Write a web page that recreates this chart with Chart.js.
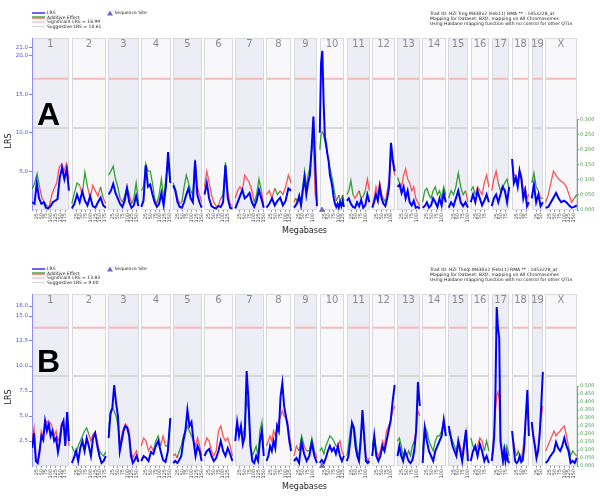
<!DOCTYPE html>
<html>
<head>
<meta charset="utf-8">
<script src="https://cdn.jsdelivr.net/npm/chart.js@4.4.1/dist/chart.umd.min.js"></script>
<style>
  html, body { margin: 0; padding: 0; background: #fff; }
  #wrap { position: relative; width: 600px; height: 497px; }
  canvas { position: absolute; left: 0; }
</style>
</head>
<body>
<div id="wrap">
  <canvas id="chartA" width="600" height="256" style="top:0"></canvas>
  <canvas id="chartB" width="600" height="241" style="top:256px"></canvas>
</div>
<script>
// chromosomes and their lengths (Mb)
const chromosomes = ['1','2','3','4','5','6','7','8','9','10','11','12','13','14','15','16','17','18','19','X'];
const chromLengthsMb = [197, 182, 160, 156, 153, 150, 153, 132, 124, 130, 122, 121, 120, 125, 104, 98, 95, 91, 61, 167];
const mbTicks = [25, 50, 75, 100, 125, 150, 175];
const gapMb = 13;

// panel A - LRS per chromosome
const lrsA = [
  [1.0, 0.8, 3.5, 1.5, 0.8, 1.0, 0.3, 0.2, 0.5, 1.0, 1.2, 1.4, 4.2, 5.5, 4.0, 5.3, 2.5],
  [0.2, 0.8, 2.0, 1.0, 2.4, 1.2, 0.6, 1.8, 0.5, 0.3, 1.0, 1.6, 0.6, 0.3],
  [2.0, 2.5, 3.4, 2.2, 1.5, 0.8, 0.4, 1.2, 2.8, 1.0, 0.3, 0.6, 1.8, 0.5],
  [0.4, 1.2, 5.8, 3.0, 3.3, 2.0, 1.0, 0.4, 0.8, 2.2, 0.6, 3.0, 7.5, 3.5],
  [3.2, 2.5, 1.0, 0.4, 0.3, 1.0, 2.0, 2.8, 1.5, 1.0, 6.4, 2.0, 1.0, 0.3],
  [2.0, 3.5, 1.5, 0.5, 0.3, 0.2, 0.5, 0.4, 1.0, 5.8, 1.5, 0.3, 0.2],
  [0.2, 1.0, 1.8, 2.6, 1.5, 1.8, 2.2, 1.0, 0.4, 1.2, 2.6, 1.5, 0.3],
  [0.3, 0.8, 1.5, 0.6, 1.2, 1.6, 0.6, 1.2, 2.8, 2.5],
  [0.3, 0.6, 1.0, 1.8, 0.6, 2.5, 4.2, 2.0, 3.5, 4.5, 8.0, 12.1, 6.0, 0.5],
  [10.0, 19.0, 20.6, 14.0, 9.5, 8.5, 7.2, 6.3, 4.5, 3.8, 2.8, 1.5, 0.8, 0.4, 0.8, 0.3, 1.0, 0.5, 1.2, 0.4],
  [1.2, 1.5, 0.8, 0.4, 0.3, 1.0, 0.5, 1.3, 0.3, 0.6, 2.0, 1.0],
  [0.3, 1.0, 2.0, 1.2, 3.0, 1.5, 0.8, 0.5, 1.5, 3.0, 8.7, 6.5, 5.0],
  [3.0, 3.3, 2.2, 3.0, 1.5, 2.5, 1.0, 0.6, 1.2, 0.3, 0.4, 0.2],
  [0.3, 0.5, 1.0, 0.3, 0.6, 1.5, 1.0, 0.4, 1.5, 0.6, 2.2, 1.0],
  [0.3, 1.0, 0.5, 1.5, 2.5, 1.0, 0.5, 1.0, 0.3],
  [1.0, 2.0, 1.0, 2.5, 1.5, 0.6, 1.2, 2.0, 1.0],
  [0.5, 1.5, 2.0, 1.0, 2.0, 3.0, 2.5, 1.0, 3.0],
  [6.6, 3.5, 4.2, 3.0, 5.1, 4.0, 1.5, 2.5, 0.5, 1.0],
  [1.5, 3.3, 1.0, 2.0, 0.5, 1.0],
  [0.3, 0.4, 1.0, 1.6, 2.2, 1.5, 1.0, 1.2, 1.0, 0.6, 0.3, 0.4, 0.6]
];
// panel A - additive effect (sign: + green, - red)
const addA = [
  [-0.069, 0.090, 0.121, 0.077, -0.039, -0.026, 0.013, -0.013, -0.051, -0.072, -0.090, -0.141, -0.154, -0.129, -0.154, -0.103],
  [-0.021, 0.057, 0.090, 0.082, -0.051, 0.126, 0.077, -0.039, -0.082, -0.064, -0.046, -0.077, 0.039, -0.021],
  [0.116, 0.129, 0.146, 0.103, 0.077, 0.039, -0.026, 0.046, 0.077, 0.051, -0.021, 0.039, 0.090, 0.026],
  [0.064, 0.077, 0.154, 0.129, 0.129, 0.090, 0.039, -0.021, 0.051, 0.103, 0.039, 0.103, 0.154, 0.090],
  [0.090, 0.072, 0.039, -0.021, -0.026, 0.077, 0.116, 0.090, 0.064, 0.051, 0.167, 0.077, -0.051, -0.026],
  [-0.077, -0.129, -0.090, -0.051, -0.026, -0.013, -0.015, -0.039, 0.051, 0.159, 0.064, -0.021, -0.013],
  [-0.039, -0.064, -0.077, -0.064, -0.116, -0.103, -0.090, -0.064, -0.026, 0.051, 0.103, 0.064, -0.013],
  [-0.051, -0.064, -0.039, -0.072, 0.051, 0.064, -0.051, -0.077, -0.116, -0.090],
  [-0.026, -0.039, 0.026, 0.051, 0.026, 0.077, 0.129, 0.077, 0.116, 0.141, 0.193, 0.231, -0.051, -0.026],
  [0.200, 0.250, 0.260, 0.250, 0.230, 0.210, 0.190, 0.160, 0.140, 0.120, 0.100, 0.075, 0.050, -0.030, 0.040, 0.050, -0.030, 0.040, -0.050, 0.030],
  [-0.051, 0.064, 0.098, 0.051, -0.039, -0.051, -0.064, 0.039, -0.046, 0.064, -0.103, -0.064],
  [-0.013, -0.039, -0.077, -0.051, -0.090, -0.051, -0.039, 0.026, -0.064, -0.103, -0.180, -0.154, -0.116],
  [0.108, 0.090, -0.077, -0.116, -0.136, -0.103, -0.090, -0.064, -0.077, -0.039, -0.026, -0.013],
  [0.026, 0.064, 0.072, 0.051, 0.039, 0.064, 0.077, 0.051, 0.064, 0.039, 0.077, 0.051],
  [0.039, 0.064, 0.051, 0.077, 0.123, 0.077, 0.051, 0.064, -0.026],
  [0.064, 0.077, 0.051, -0.077, -0.064, -0.051, -0.090, -0.116, -0.077],
  [-0.064, -0.103, -0.129, -0.090, 0.064, 0.077, 0.090, 0.103, 0.064],
  [-0.159, -0.116, -0.116, -0.090, -0.129, -0.116, -0.064, -0.077, -0.039, -0.051],
  [0.090, 0.123, 0.077, 0.064, -0.039, 0.039],
  [-0.026, -0.051, -0.090, -0.129, -0.116, -0.103, -0.095, -0.090, -0.077, -0.051, -0.026, -0.039, 0.051]
];

// panel B - LRS per chromosome
const lrsB = [
  [1.8, 3.3, 0.5, 0.3, 1.5, 3.0, 2.6, 4.5, 3.5, 4.2, 3.0, 3.5, 2.5, 2.8, 1.4, 2.4, 4.0, 4.5, 2.0, 5.4, 2.5],
  [0.3, 0.8, 1.5, 0.5, 1.8, 2.5, 1.5, 2.8, 2.0, 1.0, 2.8, 3.3, 2.0, 1.0, 0.3, 0.5, 1.0],
  [2.8, 5.2, 5.8, 8.1, 6.3, 5.0, 1.5, 2.5, 3.5, 4.0, 3.8, 3.0, 1.0, 0.3, 0.6, 1.0, 0.4],
  [0.5, 1.0, 0.8, 0.5, 1.4, 1.2, 2.0, 2.5, 1.5, 0.6, 0.4, 1.5, 4.8],
  [0.3, 0.5, 0.3, 0.6, 1.0, 2.5, 3.5, 5.6, 4.0, 4.4, 2.5, 1.0, 2.0, 1.5, 0.5],
  [1.0, 1.5, 1.7, 1.0, 0.5, 0.8, 1.5, 2.5, 1.5, 1.0, 1.8, 1.2, 0.5],
  [2.5, 4.4, 3.0, 4.0, 2.2, 3.0, 9.5, 6.5, 2.0, 0.5, 0.3, 1.0, 0.5, 2.5, 3.5, 1.0],
  [0.5, 1.0, 2.0, 1.5, 2.5, 1.8, 4.0, 3.5, 7.0, 8.3, 6.0, 5.0, 4.0, 2.5, 1.5],
  [0.5, 0.8, 0.3, 2.4, 1.2, 0.5, 1.0, 2.3, 1.0, 0.3],
  [0.3, 0.6, 0.3, 0.8, 1.5, 2.0, 1.5, 1.8, 1.2, 2.0, 1.0, 0.5, 1.0],
  [0.5, 1.0, 2.5, 4.3, 3.8, 2.0, 1.0, 0.5, 2.5, 5.6, 3.0, 0.5, 0.3, 0.5],
  [1.0, 3.0, 1.0, 0.5, 1.0, 2.0, 1.5, 2.5, 3.5, 4.5, 6.5, 8.1],
  [1.0, 2.0, 1.0, 0.5, 1.5, 1.0, 0.5, 0.3, 0.6, 1.5, 3.5, 8.4, 6.0],
  [0.3, 3.8, 2.5, 1.5, 1.0, 0.5, 1.5, 2.0, 2.5, 3.0, 4.6, 3.0],
  [4.0, 3.0, 2.0, 1.5, 1.0, 2.5, 1.5, 0.5, 2.0, 3.6, 0.5],
  [0.5, 1.5, 2.0, 1.0, 2.2, 1.5, 0.5, 1.0, 0.3],
  [0.5, 1.5, 3.0, 7.5, 15.9, 13.8, 12.8, 2.5, 1.5, 0.5, 1.5, 0.5, 1.2, 0.5, 0.3],
  [3.5, 2.0, 0.5, 0.3, 0.5, 1.0, 0.4, 0.6, 2.0, 5.0, 7.6, 3.0],
  [4.4, 3.0, 2.0, 0.8, 1.5, 3.1, 6.1, 9.4],
  [0.3, 0.5, 0.9, 1.2, 1.5, 2.4, 1.8, 1.5, 2.0, 2.8, 2.0, 1.5, 0.3, 0.5, 0.3, 0.8]
];
// panel B - additive effect
const addB = [
  [-0.156, -0.238, -0.063, -0.031, -0.063, -0.219, -0.188, -0.263, -0.281, -0.250, -0.269, -0.238, -0.188, -0.219, -0.156, -0.188, -0.269, -0.281, -0.188, -0.250, -0.125],
  [0.125, 0.094, 0.075, 0.125, 0.156, 0.188, 0.219, 0.238, 0.200, -0.156, -0.200, -0.213, -0.156, -0.094, 0.075, 0.063, 0.088],
  [0.219, 0.344, 0.363, 0.344, 0.313, 0.250, -0.125, -0.188, -0.238, -0.263, -0.250, -0.219, -0.094, -0.050, -0.075, -0.094, -0.031],
  [-0.125, -0.175, -0.156, -0.094, -0.125, -0.094, 0.156, 0.188, 0.125, -0.188, -0.125, 0.125, 0.281],
  [-0.063, -0.075, -0.050, 0.094, 0.125, 0.188, 0.219, 0.250, 0.219, 0.188, -0.156, -0.125, -0.175, -0.125, -0.063],
  [-0.125, -0.175, -0.156, -0.094, -0.063, -0.094, -0.219, -0.250, -0.188, -0.156, -0.175, -0.125, -0.063],
  [0.219, 0.250, 0.219, 0.238, 0.188, 0.250, 0.425, 0.344, 0.125, 0.063, 0.094, 0.125, 0.063, 0.219, 0.275, 0.094],
  [0.125, -0.156, -0.188, -0.156, -0.219, -0.188, -0.250, -0.281, -0.313, -0.344, -0.313, -0.300, -0.281, -0.188, -0.125],
  [0.063, -0.125, -0.094, 0.188, 0.125, -0.094, 0.094, 0.175, 0.094, -0.050],
  [0.094, 0.113, 0.075, 0.125, 0.156, 0.188, 0.175, 0.156, 0.125, -0.125, -0.156, -0.094, -0.063],
  [0.063, 0.125, 0.219, 0.269, 0.250, 0.188, 0.094, 0.063, 0.188, 0.281, 0.156, -0.063, -0.031, -0.050],
  [0.125, 0.188, 0.094, -0.063, -0.094, -0.156, -0.125, -0.219, -0.250, -0.281, -0.344, -0.375],
  [0.156, 0.175, 0.125, 0.063, 0.094, 0.063, 0.094, 0.063, 0.125, 0.156, -0.219, -0.344, -0.313],
  [0.094, 0.250, 0.219, 0.156, 0.125, 0.094, 0.156, 0.188, 0.188, 0.219, 0.281, 0.219],
  [0.219, 0.188, 0.156, 0.125, 0.094, 0.156, -0.125, -0.063, -0.156, -0.219, -0.063],
  [0.175, 0.125, 0.094, -0.125, -0.175, -0.156, -0.094, 0.156, 0.094],
  [-0.063, -0.125, -0.219, -0.344, -0.438, -0.463, -0.406, -0.188, -0.094, -0.063, 0.125, 0.094, 0.125, 0.094, 0.063],
  [-0.188, -0.156, -0.094, -0.063, 0.094, 0.063, -0.050, -0.094, -0.188, -0.313, -0.375, -0.219],
  [-0.250, -0.188, -0.125, -0.063, -0.094, -0.219, -0.313, -0.375],
  [-0.094, -0.125, -0.156, -0.188, -0.219, -0.188, -0.206, -0.219, -0.238, -0.250, -0.188, -0.125, 0.063, 0.094, 0.075, -0.063]
];

const lrsTicksA = [5, 10, 15, 20, 21];
const lrsTicksB = [2.5, 5, 7.5, 10, 12.5, 15, 16];
const addTicksA = [0, 0.05, 0.1, 0.15, 0.2, 0.25, 0.3];
const addTicksB = [0, 0.05, 0.1, 0.15, 0.2, 0.25, 0.3, 0.35, 0.4, 0.45, 0.5];
const significantLRS = [16.99, 13.83];
const suggestiveLRS = [10.61, 9.00];
const sequenceSite = { chr: 9, mb: 13 };   // chr10
const traitInfoA = [
  'Trait ID: HZI Treg M430v2 (Feb11) RMA ** : 1453228_at',
  'Mapping for Dataset: BXD, mapping on All Chromosomes',
  'Using Haldane mapping function with no control for other QTLs'
];
const traitInfoB = [
  'Trait ID: HZI Thelp M430v2 (Feb11) RMA ** : 1453228_at',
  'Mapping for Dataset: BXD, mapping on All Chromosomes',
  'Using Haldane mapping function with no control for other QTLs'
];

// cumulative positions
const offsets = [];
let acc = 0;
chromLengthsMb.forEach(len => { offsets.push(acc); acc += len + gapMb; });
const totalMb = acc - gapMb;

const xTickValues = [], xTickLabels = [];
chromLengthsMb.forEach((len, i) => {
  mbTicks.forEach(m => { if (m < len) { xTickValues.push(offsets[i] + m); xTickLabels.push(String(m)); } });
});

function buildPoints(series, signed) {
  const pts = [];
  series.forEach((vals, c) => {
    const start = offsets[c] + 1, span = chromLengthsMb[c] - 2;
    vals.forEach((v, j) => {
      const x = start + span * j / (vals.length - 1);
      pts.push(signed ? { x, y: Math.abs(v), s: v < 0 ? -1 : 1 } : { x, y: v });
    });
    pts.push({ x: offsets[c] + chromLengthsMb[c] + gapMb / 2, y: null });
  });
  return pts;
}

const GREEN = 'rgba(0,140,0,0.8)', RED = 'rgba(255,30,30,0.75)';
const FONT = '"DejaVu Sans", sans-serif';

const qtlPlugin = {
  id: 'qtl',
  beforeDraw(chart, args, o) {
    const { ctx, chartArea: a, scales: { x, y } } = chart;
    ctx.save();
    chromosomes.forEach((name, i) => {
      const x0 = Math.round(x.getPixelForValue(offsets[i]));
      const x1 = Math.round(x.getPixelForValue(offsets[i] + chromLengthsMb[i]));
      ctx.fillStyle = i % 2 === 0 ? '#ededf5' : '#f8f8fb';
      ctx.fillRect(x0, a.top, x1 - x0, a.bottom - a.top);
      ctx.strokeStyle = '#d8d8de';
      ctx.lineWidth = 1;
      ctx.strokeRect(x0 + 0.5, a.top + 0.5, x1 - x0 - 1, a.bottom - a.top - 1);
      ctx.fillStyle = '#8c8c8c';
      ctx.font = '10px ' + FONT;
      ctx.textAlign = 'center';
      ctx.textBaseline = 'middle';
      ctx.fillText(name, (x0 + x1) / 2, a.top + 6.5);
      ctx.lineWidth = 2;
      ctx.strokeStyle = '#f0bcbc';
      let yy = y.getPixelForValue(o.sig);
      ctx.beginPath(); ctx.moveTo(x0 + 1, yy); ctx.lineTo(x1 - 1, yy); ctx.stroke();
      ctx.strokeStyle = '#d8d8d8';
      yy = y.getPixelForValue(o.sug);
      ctx.beginPath(); ctx.moveTo(x0 + 1, yy); ctx.lineTo(x1 - 1, yy); ctx.stroke();
    });
    ctx.restore();
  },
  afterDraw(chart, args, o) {
    const { ctx, chartArea: a, scales: { y2 } } = chart;
    ctx.save();
    // partial green axis line
    ctx.strokeStyle = '#6ab06a';
    ctx.lineWidth = 1;
    ctx.beginPath();
    ctx.moveTo(a.right + 0.5, y2.getPixelForValue(0));
    ctx.lineTo(a.right + 0.5, y2.getPixelForValue(o.addMaxTick));
    ctx.stroke();
    // legend
    const rows = [13, 17.5, 22, 26.5];
    ctx.lineWidth = 1.2;
    ctx.strokeStyle = '#0000ff';
    ctx.beginPath(); ctx.moveTo(32, rows[0]); ctx.lineTo(45, rows[0]); ctx.stroke();
    ctx.strokeStyle = GREEN;
    ctx.beginPath(); ctx.moveTo(32, rows[1] - 0.6); ctx.lineTo(45, rows[1] - 0.6); ctx.stroke();
    ctx.strokeStyle = RED;
    ctx.beginPath(); ctx.moveTo(32, rows[1] + 0.6); ctx.lineTo(45, rows[1] + 0.6); ctx.stroke();
    ctx.strokeStyle = '#f0bcbc';
    ctx.beginPath(); ctx.moveTo(32, rows[2]); ctx.lineTo(45, rows[2]); ctx.stroke();
    ctx.strokeStyle = '#d8d8d8';
    ctx.beginPath(); ctx.moveTo(32, rows[3]); ctx.lineTo(45, rows[3]); ctx.stroke();
    ctx.fillStyle = '#222';
    ctx.font = '4.5px ' + FONT;
    ctx.textAlign = 'left';
    ctx.textBaseline = 'middle';
    ctx.fillText('LRS', 47, rows[0]);
    ctx.fillText('Additive Effect', 47, rows[1]);
    ctx.fillText('Significant LRS = ' + o.sig.toFixed(2), 47, rows[2]);
    ctx.fillText('Suggestive LRS = ' + o.sug.toFixed(2), 47, rows[3]);
    ctx.fillStyle = '#7464c0';
    ctx.beginPath(); ctx.moveTo(110, 10.5); ctx.lineTo(113, 15.5); ctx.lineTo(107, 15.5); ctx.closePath(); ctx.fill();
    ctx.fillStyle = '#222';
    ctx.fillText('Sequence Site', 114.5, 13.3);
    o.info.forEach((t, i) => ctx.fillText(t, 430, 13.5 + i * 5.4));
    // y title
    ctx.save();
    ctx.translate(9, 141);
    ctx.rotate(-Math.PI / 2);
    ctx.font = '8px ' + FONT;
    ctx.textAlign = 'center';
    ctx.fillText('LRS', 0, 0);
    ctx.restore();
    // panel letter
    ctx.font = 'bold 32px "Liberation Sans", sans-serif';
    ctx.fillStyle = '#000';
    ctx.textBaseline = 'alphabetic';
    ctx.textAlign = 'left';
    ctx.fillText(o.letter, 37, o.letterY);
    ctx.restore();
  }
};

function makeChart(id, lrs, add, opts) {
  return new Chart(document.getElementById(id), {
    type: 'line',
    data: {
      datasets: [
        {
          label: 'LRS', data: buildPoints(lrs, false), yAxisID: 'y',
          borderColor: '#0000ff', borderWidth: 2, pointRadius: 0, tension: 0, spanGaps: false
        },
        {
          label: 'Sequence Site', data: [{ x: offsets[sequenceSite.chr] + sequenceSite.mb, y: 0 }], yAxisID: 'y',
          showLine: false, pointStyle: 'triangle', pointRadius: 3, backgroundColor: '#7464c0',
          borderColor: '#5a4aa0', borderWidth: 0.5, clip: false
        },
        {
          label: 'Additive Effect', data: buildPoints(add, true), yAxisID: 'y2',
          borderColor: GREEN, borderWidth: 1.3, pointRadius: 0, tension: 0, spanGaps: false,
          segment: {
            borderColor: c => c.chart.data.datasets[c.datasetIndex].data[c.p1DataIndex].s < 0 ? RED : GREEN
          }
        }
      ]
    },
    options: {
      responsive: false,
      animation: false,
      events: [],
      layout: { padding: { top: 38, left: 0, right: 0, bottom: opts.padBottom } },
      plugins: {
        legend: { display: false },
        tooltip: { enabled: false },
        qtl: { sig: opts.sig, sug: opts.sug, info: opts.info, letter: opts.letter, letterY: opts.letterY, addMaxTick: opts.addTicks[opts.addTicks.length - 1] }
      },
      scales: {
        x: {
          type: 'linear', min: 0, max: totalMb,
          afterBuildTicks: s => { s.ticks = xTickValues.map(v => ({ value: v })); },
          afterFit: s => { s.height = 26; },
          ticks: {
            autoSkip: false, minRotation: 90, maxRotation: 90, padding: 1,
            font: { size: 5, family: FONT }, color: '#444',
            callback: (v, i) => xTickLabels[i]
          },
          grid: { drawOnChartArea: false, tickLength: 2, color: '#999' },
          border: { display: false },
          title: { display: true, text: 'Megabases', font: { size: 8, family: FONT }, color: '#222', padding: 0 }
        },
        y: {
          position: 'left', min: 0, max: opts.lrsMax,
          afterBuildTicks: s => { s.ticks = opts.lrsTicks.map(v => ({ value: v })); },
          afterFit: s => { s.width = 32; },
          ticks: { font: { size: 5.5, family: FONT }, color: '#4d4dff', padding: 1, callback: v => v.toFixed(1) },
          grid: { drawOnChartArea: false, tickLength: 3, color: '#7b7bff' },
          border: { color: '#8c8cff', width: 1 }
        },
        y2: {
          position: 'right', min: 0, max: opts.addMax,
          afterBuildTicks: s => { s.ticks = opts.addTicks.map(v => ({ value: v })); },
          afterFit: s => { s.width = 23; },
          ticks: { font: { size: 5, family: FONT }, color: '#4a9a4a', padding: 1, callback: v => v.toFixed(3) },
          grid: { drawOnChartArea: false, tickLength: 2, color: '#6ab06a' },
          border: { display: false }
        }
      }
    },
    plugins: [qtlPlugin]
  });
}

makeChart('chartA', lrsA, addA, {
  lrsMax: 22.27, addMax: 0.572, lrsTicks: lrsTicksA, addTicks: addTicksA,
  sig: significantLRS[0], sug: suggestiveLRS[0], info: traitInfoA, letter: 'A', letterY: 125, padBottom: 20
});
makeChart('chartB', lrsB, addB, {
  lrsMax: 17.2, addMax: 1.075, lrsTicks: lrsTicksB, addTicks: addTicksB,
  sig: significantLRS[1], sug: suggestiveLRS[1], info: traitInfoB, letter: 'B', letterY: 116, padBottom: 5
});
</script>
</body>
</html>
